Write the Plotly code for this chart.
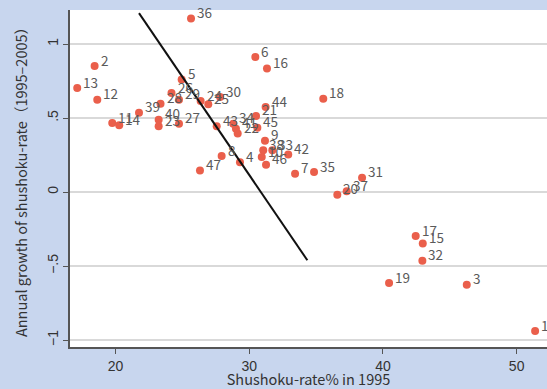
import plotly.graph_objects as go

# Prefecture labels
labels = [str(i) for i in range(1, 48)]
# Shushoku-rate % in 1995
shushoku_1995 = [51.38, 18.44, 46.27, 29.31, 24.95, 30.46, 33.43, 27.94, 31.18, 30.94,
                 19.76, 18.64, 17.14, 20.28, 42.98, 31.33, 42.45, 35.54, 40.46, 36.59,
                 30.51, 29.14, 23.23, 26.37, 26.94, 24.19, 24.75, 23.37, 24.75, 27.82,
                 38.44, 42.95, 31.73, 28.81, 34.85, 25.65, 37.29, 31.05, 21.76, 23.23,
                 29.01, 32.92, 27.57, 31.23, 30.61, 31.26, 26.32]
# Annual growth of shushoku-rate (1995-2005)
growth = [-0.939, 0.851, -0.626, 0.201, 0.761, 0.912, 0.124, 0.243, 0.346, 0.236,
          0.466, 0.624, 0.703, 0.451, -0.347, 0.834, -0.297, 0.631, -0.615, -0.018,
          0.514, 0.395, 0.444, 0.615, 0.594, 0.669, 0.462, 0.597, 0.624, 0.642,
          0.096, -0.464, 0.282, 0.462, 0.135, 1.172, 0.005, 0.282, 0.535, 0.489,
          0.428, 0.253, 0.444, 0.574, 0.435, 0.185, 0.145]
# Fitted line endpoints
fit_x = [21.76, 34.35]
fit_y = [1.209, -0.461]

x_ticks = [20, 30, 40, 50]
y_ticks = [-1, -0.5, 0, 0.5, 1]
y_ticktext = ["\u22121", "\u2212.5", "0", ".5", "1"]

JP = "Noto Sans CJK JP"
BG = "#c8d6ee"

fig = go.Figure()
fig.add_trace(go.Scatter(x=shushoku_1995, y=growth, mode="markers",
                         marker=dict(color="#ea5f4b", size=8),
                         cliponaxis=True, hoverinfo="skip"))
fig.add_trace(go.Scatter(x=fit_x, y=fit_y, mode="lines",
                         line=dict(color="#111111", width=2), hoverinfo="skip"))

for lx, ly, lt in zip(shushoku_1995, growth, labels):
    fig.add_annotation(x=lx, y=ly, text=lt, showarrow=False, xanchor="left",
                       yanchor="middle", xshift=4, yshift=6.5,
                       font=dict(family=JP, size=13.5, color="#5a5a5a"))

fig.update_layout(
    width=547, height=389,
    margin=dict(l=70, r=0, t=10, b=42),
    paper_bgcolor=BG, plot_bgcolor="#ffffff",
    showlegend=False,
    font=dict(family="Liberation Sans", size=14, color="#333333"),
)
fig.update_xaxes(range=[16.6, 52.27], tickvals=x_ticks, showgrid=False, zeroline=False,
                 showline=True, linecolor="#555555", linewidth=1.5,
                 ticks="outside", ticklen=5, tickcolor="#555555",
                 title=dict(text="Shushoku-rate% in 1995", font=dict(family=JP, size=14.5, color="#333333"), standoff=2))
fig.update_yaxes(range=[-1.047, 1.23], tickvals=y_ticks, ticktext=y_ticktext, tickangle=-90,
                 showgrid=True, gridcolor="#d9d9d9", gridwidth=1.5, zeroline=False,
                 showline=True, linecolor="#555555", linewidth=1.5,
                 ticks="outside", ticklen=5, tickcolor="#555555",
                 title=dict(text="Annual growth of shushoku-rate\uff081995\u20132005\uff09", font=dict(family=JP, size=14.5, color="#333333"), standoff=14))

fig.write_html("out.html", config={"displayModeBar": False},
               post_script="document.body.style.margin='0';document.body.style.overflow='hidden';document.body.style.background='%s';" % BG)
